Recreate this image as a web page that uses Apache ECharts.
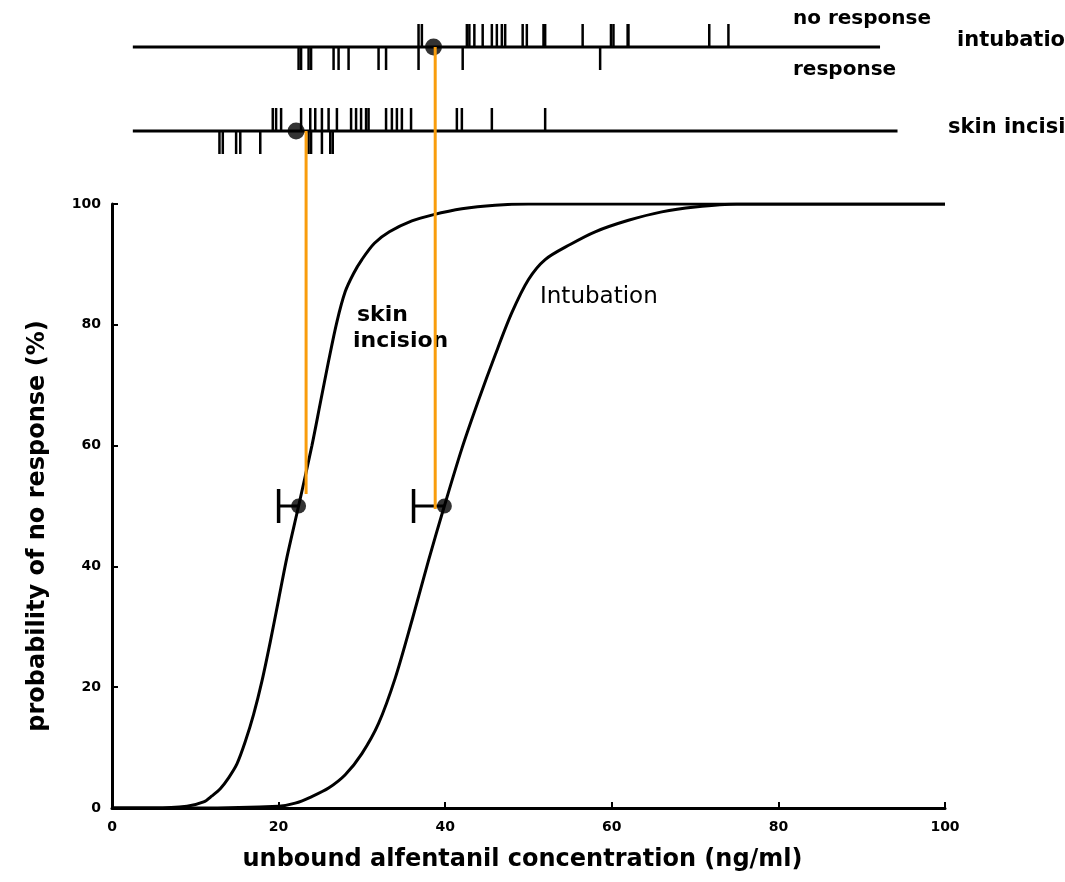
<!DOCTYPE html>
<html>
<head>
<meta charset="utf-8">
<title>alfentanil concentration-response</title>
<script src="https://cdn.jsdelivr.net/npm/echarts@6/dist/echarts.min.js"></script>
<style>
  html, body { margin: 0; padding: 0; background: #fff; }
  #chart { width: 1065px; height: 882px; }
</style>
</head>
<body>
<div id="chart"></div>
<script>
// fitted curves: unbound alfentanil (ng/ml) -> probability of no response (%)
const skinX = [0, 5, 9, 11, 12, 13, 14, 15, 16, 17, 18, 19, 20, 21, 22.4, 24, 25, 26, 27, 28, 29, 30, 31.5, 33.3, 36, 38.5, 42, 46, 50, 60, 80, 100];
const skinY = [0, 0, 0.3, 1, 2, 3.2, 5, 7.3, 11, 15.5, 21, 27.5, 34.5, 41.5, 50, 60, 67, 74, 80.5, 85.5, 88.5, 90.8, 93.5, 95.4, 97.2, 98.2, 99.2, 99.8, 100, 100, 100, 100];
const intubX = [0, 10, 20, 22, 24, 26, 28, 30, 32, 34, 36, 38, 39.9, 42, 44, 46, 48, 50, 52, 55, 58, 62, 66, 70, 75, 80, 100];
const intubY = [0, 0, 0.3, 0.8, 1.9, 3.3, 5.5, 9, 14, 21.5, 31, 41, 50, 59.5, 67.5, 75, 82, 87.5, 90.8, 93.3, 95.4, 97.3, 98.7, 99.5, 100, 100, 100];

// EC50 with lower error limit (skin incision, intubation)
const ec50 = [22.4, 39.9];
const ec50Low = [20.0, 36.2];

// individual patients, top strips
const stripRows = ['skin incision', 'intubation'];
const intubNoResp = [36.8, 37.2, 42.6, 42.9, 43.5, 44.5, 45.6, 46.2, 46.8, 47.2, 49.3, 49.8, 51.8, 52.0, 56.5, 59.9, 60.2, 61.9, 62.0, 71.7, 74.0];
const intubResp = [22.4, 22.7, 23.6, 23.9, 26.6, 27.2, 28.4, 32.0, 32.9, 36.8, 42.1, 58.6];
const skinNoResp = [19.3, 19.7, 20.3, 22.7, 23.8, 24.4, 25.2, 26.0, 27.0, 28.7, 29.3, 29.9, 30.5, 30.8, 32.9, 33.6, 34.2, 34.8, 35.9, 41.4, 42.0, 45.6, 52.0];
const skinResp = [12.9, 13.3, 14.9, 15.4, 17.8, 23.6, 23.9, 25.2, 26.2, 26.5];
const stripMedian = [22.1, 38.6];
const stripLineEnd = [94.3, 92.2];

// orange guide lines from strip median down to the curve
const guideX = [23.3, 38.8];
const guideEnd = [52, 49.5];

const xTicks = [0, 20, 40, 60, 80, 100];
const yTicks = [0, 20, 40, 60, 80, 100];

const FONT = 'DejaVu Sans';
let myChart = echarts.init(document.getElementById('chart'));

let stripTicks = [];
intubNoResp.forEach(x => stripTicks.push([x, 'intubation', 1]));
intubResp.forEach(x => stripTicks.push([x, 'intubation', -1]));
skinNoResp.forEach(x => stripTicks.push([x, 'skin incision', 1]));
skinResp.forEach(x => stripTicks.push([x, 'skin incision', -1]));

let option = {
  animation: false,
  backgroundColor: '#fff',
  textStyle: { fontFamily: FONT, color: '#000' },
  grid: [
    { left: 112, top: 204, width: 833, height: 604 },
    { left: 112, top: 5, width: 833, height: 168 }
  ],
  xAxis: [
    {
      gridIndex: 0,
      type: 'value',
      min: 0,
      max: 100,
      interval: 20,
      name: 'unbound alfentanil concentration (ng/ml)',
      nameLocation: 'middle',
      nameGap: 40,
      nameTextStyle: { fontSize: 24, fontWeight: 'bold', color: '#000', padding: [0, 12, 0, 0] },
      axisLine: { lineStyle: { color: '#000', width: 3 } },
      axisTick: { inside: true, length: 6, lineStyle: { color: '#000', width: 2 } },
      axisLabel: {
        margin: 12,
        fontSize: 14,
        fontWeight: 'bold',
        color: '#000',
        formatter: v => (xTicks.indexOf(v) >= 0 ? String(v) : '')
      },
      splitLine: { show: false }
    },
    { gridIndex: 1, type: 'value', min: 0, max: 100, show: false }
  ],
  yAxis: [
    {
      gridIndex: 0,
      type: 'value',
      min: 0,
      max: 100,
      interval: 20,
      name: 'probability of no response (%)',
      nameLocation: 'middle',
      nameGap: 62,
      nameTextStyle: { fontSize: 24, fontWeight: 'bold', color: '#000', padding: [0, 40, 0, 0] },
      axisLine: { show: true, lineStyle: { color: '#000', width: 3 } },
      axisTick: { show: true, inside: true, length: 6, lineStyle: { color: '#000', width: 2 } },
      axisLabel: {
        margin: 11,
        fontSize: 14,
        fontWeight: 'bold',
        color: '#000',
        formatter: v => (yTicks.indexOf(v) >= 0 ? String(v) : '')
      },
      splitLine: { show: false }
    },
    { gridIndex: 1, type: 'category', data: stripRows, show: false, boundaryGap: true }
  ],
  series: [
    {
      name: 'skin incision',
      type: 'line',
      xAxisIndex: 0,
      yAxisIndex: 0,
      smooth: 0.3,
      symbol: 'none',
      lineStyle: { color: '#000', width: 3 },
      data: skinX.map((x, i) => [x, skinY[i]])
    },
    {
      name: 'intubation',
      type: 'line',
      xAxisIndex: 0,
      yAxisIndex: 0,
      smooth: 0.3,
      symbol: 'none',
      lineStyle: { color: '#000', width: 3 },
      data: intubX.map((x, i) => [x, intubY[i]])
    },
    {
      name: 'ec50 bars',
      type: 'custom',
      xAxisIndex: 0,
      yAxisIndex: 0,
      renderItem: (params, api) => {
        const a = api.coord([api.value(0), api.value(2)]);
        const b = api.coord([api.value(1), api.value(2)]);
        return {
          type: 'group',
          children: [
            { type: 'line', shape: { x1: a[0], y1: a[1], x2: b[0], y2: b[1] }, style: { stroke: '#000', lineWidth: 3 } },
            { type: 'line', shape: { x1: a[0], y1: a[1] - 17, x2: a[0], y2: a[1] + 17 }, style: { stroke: '#000', lineWidth: 3.5 } }
          ]
        };
      },
      data: ec50.map((x, i) => [ec50Low[i], x, 50])
    },
    {
      name: 'ec50',
      type: 'scatter',
      xAxisIndex: 0,
      yAxisIndex: 0,
      symbolSize: 15,
      itemStyle: { color: '#000' },
      data: ec50.map(x => [x, 50])
    },
    {
      name: 'strip lines',
      type: 'custom',
      xAxisIndex: 1,
      yAxisIndex: 1,
      renderItem: (params, api) => {
        const a = api.coord([2.5, api.value(1)]);
        const b = api.coord([api.value(0), api.value(1)]);
        return { type: 'line', shape: { x1: a[0], y1: a[1], x2: b[0], y2: b[1] }, style: { stroke: '#000', lineWidth: 3 } };
      },
      data: stripRows.map((r, i) => [stripLineEnd[i], r])
    },
    {
      name: 'patients',
      type: 'custom',
      xAxisIndex: 1,
      yAxisIndex: 1,
      renderItem: (params, api) => {
        const p = api.coord([api.value(0), api.value(1)]);
        const dir = api.value(2);
        return {
          type: 'line',
          shape: { x1: p[0], y1: p[1] - dir * 1, x2: p[0], y2: p[1] - dir * 23 },
          style: { stroke: '#000', lineWidth: 2.5 }
        };
      },
      data: stripTicks
    },
    {
      name: 'strip median',
      type: 'scatter',
      xAxisIndex: 1,
      yAxisIndex: 1,
      symbolSize: 17,
      itemStyle: { color: '#000' },
      data: stripRows.map((r, i) => [stripMedian[i], r])
    }
  ]
};
myChart.setOption(option);

// text and orange guides, placed with the chart's own coordinate conversion
let graphics = [
  { type: 'text', left: 357, top: 304, style: { text: 'skin', font: 'bold 22px ' + FONT, fill: '#000' } },
  { type: 'text', left: 353, top: 330, style: { text: 'incision', font: 'bold 22px ' + FONT, fill: '#000' } },
  { type: 'text', left: 540, top: 286, style: { text: 'Intubation', font: '23px ' + FONT, fill: '#000' } },
  { type: 'text', left: 793, top: 9, style: { text: 'no response', font: 'bold 20px ' + FONT, fill: '#000' } },
  { type: 'text', left: 957, top: 30, style: { text: 'intubation', font: 'bold 21px ' + FONT, fill: '#000' } },
  { type: 'text', left: 793, top: 60, style: { text: 'response', font: 'bold 20px ' + FONT, fill: '#000' } },
  { type: 'text', left: 948, top: 117, style: { text: 'skin incision', font: 'bold 21px ' + FONT, fill: '#000' } }
];
guideX.forEach((x, i) => {
  const top = myChart.convertToPixel({ gridIndex: 1 }, [x, stripRows[i]]);
  const bottom = myChart.convertToPixel({ gridIndex: 0 }, [x, guideEnd[i]]);
  graphics.push({
    type: 'line',
    z: 100,
    shape: { x1: top[0], y1: top[1], x2: bottom[0], y2: bottom[1] },
    style: { stroke: '#f99d0c', lineWidth: 3 }
  });
});
myChart.setOption({ graphic: graphics });
</script>
</body>
</html>
